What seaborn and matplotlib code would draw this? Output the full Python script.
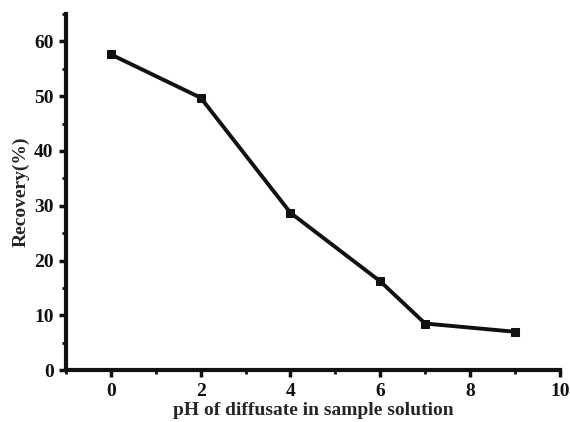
import matplotlib
matplotlib.use('Agg')
import matplotlib.pyplot as plt
import seaborn as sns
import pandas as pd
from matplotlib.ticker import MultipleLocator

ph = [0, 2, 4, 6, 7, 9]
recovery = [57.6, 49.7, 28.7, 16.2, 8.5, 7.0]

df = pd.DataFrame({'pH': ph, 'Recovery': recovery})

sns.set_style('ticks')
plt.rcParams['font.family'] = ['Liberation Serif', 'DejaVu Serif']
plt.rcParams['font.weight'] = 'bold'

fig = plt.figure(figsize=(5.7, 4.22), dpi=100)
ax = fig.add_axes([0.116, 0.123, 0.866, 0.844])

sns.lineplot(data=df, x='pH', y='Recovery', ax=ax, color='#111111',
             linewidth=2.8, marker='s', markersize=6, markeredgecolor='#111111')

ax.set_xlim(-1, 10)
ax.set_ylim(0, 65)
ax.xaxis.set_major_locator(MultipleLocator(2))
ax.xaxis.set_minor_locator(MultipleLocator(1))
ax.yaxis.set_major_locator(MultipleLocator(10))
ax.yaxis.set_minor_locator(MultipleLocator(5))
ax.tick_params(which='major', length=5, width=2.5, labelsize=14, direction='out',
               colors='#111111', pad=4)
ax.tick_params(which='minor', length=3, width=2, direction='out', colors='#111111')
for lbl in ax.get_xticklabels() + ax.get_yticklabels():
    lbl.set_fontweight('bold')

sns.despine(ax=ax)
ax.spines['left'].set_linewidth(3)
ax.spines['bottom'].set_linewidth(3)
ax.spines['left'].set_color('#111111')
ax.spines['bottom'].set_color('#111111')

ax.set_xlabel('pH of diffusate in sample solution', fontsize=14, fontweight='bold', labelpad=2)
ax.set_ylabel('Recovery(%)', fontsize=14, fontweight='bold', labelpad=3)

fig.savefig('out.png', dpi=100)
